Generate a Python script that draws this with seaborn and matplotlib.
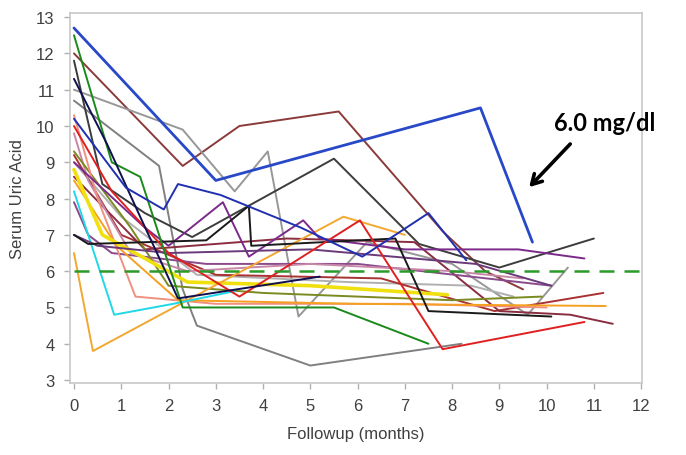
import matplotlib
matplotlib.use("Agg")
import matplotlib.pyplot as plt
import seaborn as sns
import pandas as pd

# one (months, uric acid) pair per patient
p01 = ([0, 2.3, 3.5, 5.6, 7.8, 8.7, 9.5], [12.0, 8.9, 10.0, 10.4, 7.1, 6.0, 5.5])
p02 = ([0, 1.8, 2.3, 2.6, 5.0, 8.2], [10.7, 8.9, 5.5, 4.5, 3.4, 4.0])
p03 = ([0, 2.3, 3.4, 4.1, 4.75, 6.2, 8.0, 9.6, 10.45], [11.0, 9.9, 8.2, 9.3, 4.75, 6.8, 6.2, 4.8, 6.1])
p04 = ([0, 1.0, 2.6, 5.8, 8.4, 9.3], [9.0, 7.5, 5.9, 5.7, 5.6, 5.3])
p05 = ([0, 0.6, 1.5, 2.5, 5.5, 7.3, 9.0, 11.0], [11.8, 8.4, 7.6, 6.94, 9.1, 6.75, 6.1, 6.9])
p06 = ([0, 1.0, 3.0, 6.5, 8.9, 11.2], [9.2, 7.0, 5.9, 5.8, 4.9, 5.4])
p07 = ([0, 1.5, 4.5, 7.2, 9.0, 10.5, 11.4], [8.6, 6.6, 6.9, 6.8, 4.9, 4.8, 4.55])
p08 = ([0, 0.3, 0.8, 2.8, 6.0, 10.1], [7.9, 7.0, 6.5, 6.2, 6.2, 5.6])
p09 = ([0, 0.3, 1.2, 2.4, 5.0, 8.0, 9.5], [9.8, 8.5, 6.5, 6.0, 6.2, 6.0, 5.8])
p10 = ([0, 1.2, 2.0, 4.0, 8.0, 9.9], [9.3, 7.2, 5.6, 5.4, 5.2, 5.3])
p11 = ([0, 0.5, 1.3, 3.0, 7.0, 10.0], [10.3, 8.0, 5.3, 5.1, 5.1, 5.0])
p12 = ([0, 0.9, 2.2, 6.0, 11.25], [8.5, 6.7, 5.2, 5.1, 5.04])
p13 = ([0, 0.6, 2.4, 5.0, 7.9], [8.8, 7.0, 5.7, 5.6, 5.35])
p14 = ([0, 0.4, 2.4, 5.7, 7.0], [6.5, 3.8, 5.2, 7.5, 7.0])
p15 = ([0, 0.85, 2.1, 3.4], [8.2, 4.8, 5.1, 5.45])
p16 = ([0, 1.5, 2.0, 3.15, 3.7, 4.85, 5.2, 7.0, 9.4, 10.8], [9.0, 7.2, 6.7, 7.9, 6.4, 7.4, 6.9, 6.6, 6.6, 6.35])
p17 = ([0, 0.5, 2.0, 5.0, 8.5, 10.1], [7.0, 6.7, 6.5, 6.6, 6.2, 5.6])
p18 = ([0, 0.3, 2.8, 3.7, 3.75, 6.8, 7.5, 10.1], [7.0, 6.75, 6.85, 7.8, 6.7, 6.9, 4.9, 4.75])
p19 = ([0, 0.8, 2.0, 3.5, 6.05, 7.8, 10.8], [10.0, 8.2, 6.5, 5.3, 7.4, 3.85, 4.6])
p20 = ([0, 0.8, 1.4, 2.3, 5.5, 7.5], [12.5, 9.0, 8.6, 5.0, 5.0, 4.0])
p21 = ([0, 0.7, 1.4, 2.2, 5.2], [11.3, 9.5, 7.5, 5.25, 5.85])
p22 = ([0, 1.1, 1.9, 2.2, 3.1, 4.8, 6.1, 7.5, 8.3], [10.2, 8.3, 7.7, 8.4, 8.1, 7.2, 6.4, 7.6, 6.3])
p23 = ([0, 3.0, 8.6, 9.7], [12.7, 8.5, 10.5, 6.8])

target = 6.0
note = "6.0 mg/dl"

patients = [p01, p02, p03, p04, p05, p06, p07, p08, p09, p10, p11, p12,
            p13, p14, p15, p16, p17, p18, p19, p20, p21, p22, p23]
colors = ["#8b3a3a", "#808080", "#979797", "#b0b0b0", "#3c3c3c", "#a83232",
          "#8a2d40", "#8b4a8b", "#c888a8", "#7a8a20", "#f09080", "#f5a020",
          "#f0e010", "#f2a830", "#20d8e8", "#7b2a8b", "#6a3a7a", "#1a1a1a",
          "#e02020", "#1a8a1a", "#101050", "#2030b0", "#2848c8"]
widths = [1.4] * 12 + [2.6] + [1.4] * 9 + [2.0]

rows = []
for i, (m, v) in enumerate(patients):
    for a, b in zip(m, v):
        rows.append({"subject": i, "month": a, "uric": b})
df = pd.DataFrame(rows)

sns.set_style("white")
plt.rcParams["font.family"] = ["Liberation Sans", "DejaVu Sans"]

fig = plt.figure(figsize=(6.86, 4.56), dpi=100)
ax = fig.add_axes([0.102, 0.158, 0.834, 0.811])

for i in range(len(patients)):
    sns.lineplot(data=df[df["subject"] == i], x="month", y="uric", color=colors[i],
                 linewidth=widths[i], estimator=None, sort=False, ax=ax, legend=False)

ax.axhline(target, xmin=0.007, xmax=1.0, color="#2a9a2a", linestyle=(0, (6, 4)), linewidth=1.8)

ax.set_xlim(-0.085, 12.02)
ax.set_ylim(2.92, 13.11)
ax.set_xticks(range(0, 13))
ax.set_yticks(range(3, 14))
ax.set_xlabel("Followup (months)", fontsize=12, color="#404040", labelpad=9)
ax.set_ylabel("Serum Uric Acid", fontsize=12, color="#404040", labelpad=8)
ax.tick_params(axis="both", labelsize=12, labelcolor="#404040", color="#b0b0b0",
               length=4, width=1, direction="out", bottom=True, left=True, pad=7)
for s in ax.spines.values():
    s.set_color("#c8c8c8")
    s.set_linewidth(1.2)

ax.annotate("", xy=(9.59, 8.26), xytext=(10.54, 9.56),
            arrowprops=dict(arrowstyle="->,head_length=0.7,head_width=0.4",
                            color="black", lw=2.6))
fig.text(0.807, 0.730, note, fontsize=17, fontweight="bold", family="Lato",
         va="center", ha="left", color="black")

fig.savefig("out.png", dpi=100)
